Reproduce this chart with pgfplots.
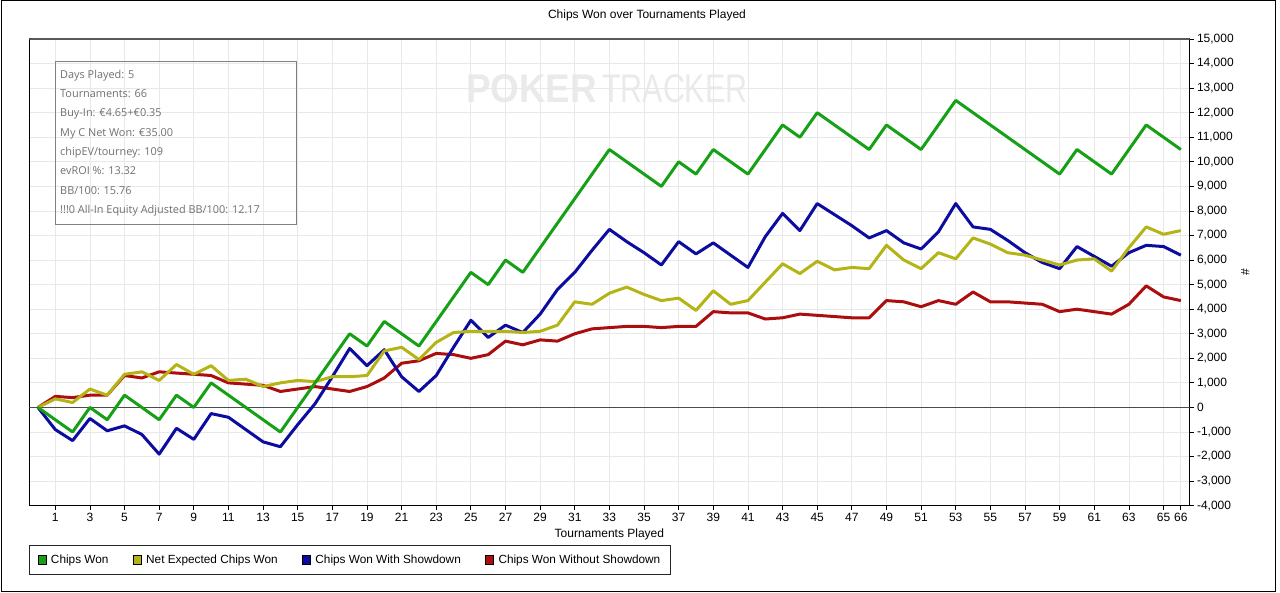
\documentclass[border=0pt]{standalone}
\usepackage{pgfplots}
\pgfplotsset{compat=1.18}
\usepackage{pgfplotstable}
\usepackage{fontspec}
\setmainfont{Liberation Sans}
\newfontfamily\infofont{Open Sans}
\definecolor{cgreen}{RGB}{22,160,22}
\definecolor{cyellow}{RGB}{180,180,22}
\definecolor{cblue}{RGB}{12,12,160}
\definecolor{cred}{RGB}{172,14,14}
\definecolor{gridc}{RGB}{232,232,232}
\definecolor{wmark}{RGB}{234,234,234}
\definecolor{infotext}{RGB}{112,112,112}

\pgfplotstableread{
x G Y B R
0 0 0 0 0
1 -500 350 -900 450
2 -1000 200 -1350 400
3 0 750 -450 500
4 -500 500 -950 500
5 500 1350 -750 1300
6 0 1450 -1100 1200
7 -500 1100 -1900 1450
8 500 1750 -850 1400
9 0 1350 -1300 1350
10 1000 1700 -250 1300
11 500 1100 -400 1000
12 0 1150 -900 950
13 -500 850 -1400 900
14 -1000 1000 -1600 650
15 0 1100 -700 750
16 1000 1050 150 850
17 2000 1250 1250 750
18 3000 1250 2400 650
19 2500 1300 1700 850
20 3500 2300 2350 1200
21 3000 2450 1250 1800
22 2500 1950 650 1900
23 3500 2650 1300 2200
24 4500 3050 2450 2150
25 5500 3100 3550 2000
26 5000 3100 2850 2150
27 6000 3100 3350 2700
28 5500 3050 3050 2550
29 6500 3100 3800 2750
30 7500 3350 4800 2700
31 8500 4300 5500 3000
32 9500 4200 6400 3200
33 10500 4650 7250 3250
34 10000 4900 6750 3300
35 9500 4600 6300 3300
36 9000 4350 5800 3250
37 10000 4450 6750 3300
38 9500 3950 6250 3300
39 10500 4750 6700 3900
40 10000 4200 6200 3850
41 9500 4350 5700 3850
42 10500 5100 6950 3600
43 11500 5850 7900 3650
44 11000 5450 7200 3800
45 12000 5950 8300 3750
46 11500 5600 7850 3700
47 11000 5700 7400 3650
48 10500 5650 6900 3650
49 11500 6600 7200 4350
50 11000 6000 6700 4300
51 10500 5650 6450 4100
52 11500 6300 7150 4350
53 12500 6050 8300 4200
54 12000 6900 7350 4700
55 11500 6650 7250 4300
56 11000 6300 6800 4300
57 10500 6200 6300 4250
58 10000 6000 5900 4200
59 9500 5800 5650 3900
60 10500 6000 6550 4000
61 10000 6050 6150 3900
62 9500 5550 5750 3800
63 10500 6500 6300 4200
64 11500 7350 6600 4950
65 11000 7050 6550 4500
66 10500 7200 6200 4350
}\datatable

\begin{document}
\begin{tikzpicture}
\path[use as bounding box] (0,0) rectangle (1280bp,593bp);
\draw[black, line width=1bp] (1.5bp,1.5bp) rectangle (1275bp,592bp);
% watermark
\node[anchor=base west, inner sep=0, text=wmark] at (466bp,490.3bp)
  {\scalebox{0.92}[1]{\fontsize{40bp}{40bp}\selectfont\bfseries POKER}};
\node[anchor=base west, inner sep=0, text=wmark] at (602bp,490.3bp)
  {\scalebox{0.76}[1]{\fontsize{40bp}{40bp}\selectfont TRACKER}};
\begin{axis}[
  at={(29.3bp,87.3bp)}, anchor=south west,
  scale only axis, width=1160.2bp, height=466.7bp,
  xmin=-0.5, xmax=66.5, ymin=-4000, ymax=15000,
  xtick={1,3,5,7,9,11,13,15,17,19,21,23,25,27,29,31,33,35,37,39,41,43,45,47,49,51,53,55,57,59,61,63,65,66},
  ytick={-4000,-3000,-2000,-1000,0,1000,2000,3000,4000,5000,6000,7000,8000,9000,10000,11000,12000,13000,14000,15000},
  scaled y ticks=false,
  xtick pos=bottom, ytick pos=right, yticklabel pos=right,
  tick align=outside, major tick length=4bp,
  tick style={black, line width=0.8bp},
  grid=major, major grid style={draw=gridc, line width=0.8bp},
  axis line style={black, line width=1bp},
  ticklabel style={font=\fontsize{12bp}{14bp}\selectfont},
  /pgf/number format/assume math mode=true,
  /pgf/number format/1000 sep={,},
  title={Chips Won over Tournaments Played},
  title style={at={(axis description cs:0.5,1)}, anchor=center, xshift=37.6bp, yshift=17.3bp, font=\fontsize{12bp}{14bp}\selectfont},
  xlabel={Tournaments Played},
  xlabel style={at={(axis description cs:0.5,0)}, anchor=center, yshift=-29bp, font=\fontsize{12bp}{14bp}\selectfont},
  ylabel={\#},
  ylabel style={at={(axis description cs:1.048,0.5)}, anchor=center, font=\fontsize{12bp}{14bp}\selectfont},
  legend columns=4,
  legend cell align=left,
  legend style={at={(axis description cs:0,0)}, anchor=north west, yshift=-39.3bp,
    draw=black!85, line width=1bp, font=\fontsize{11.8bp}{14bp}\selectfont,
    inner xsep=8bp, inner ysep=7.5bp,
    /tikz/every odd column/.append style={column sep=2.5bp},
    /tikz/every even column/.append style={column sep=22.5bp}},
  clip=true,
]
\draw[black!70, line width=1.5bp] (axis cs:-0.5,0) -- (axis cs:66.5,0);
\addplot[forget plot, cred, line width=3bp, line join=round] table[x=x,y=R] {\datatable};
\addplot[forget plot, cblue, line width=3bp, line join=round] table[x=x,y=B] {\datatable};
\addplot[forget plot, cyellow, line width=3bp, line join=round] table[x=x,y=Y] {\datatable};
\addplot[forget plot, cgreen, line width=3bp, line join=round] table[x=x,y=G] {\datatable};
\addlegendimage{legend image code/.code={\draw[fill=cgreen,draw=black,line width=0.7bp] (0bp,-4.5bp) rectangle (8bp,4.5bp);}}
\addlegendentry{Chips Won}
\addlegendimage{legend image code/.code={\draw[fill=cyellow,draw=black,line width=0.7bp] (0bp,-4.5bp) rectangle (8bp,4.5bp);}}
\addlegendentry{Net Expected Chips Won}
\addlegendimage{legend image code/.code={\draw[fill=cblue,draw=black,line width=0.7bp] (0bp,-4.5bp) rectangle (8bp,4.5bp);}}
\addlegendentry{Chips Won With Showdown}
\addlegendimage{legend image code/.code={\draw[fill=cred,draw=black,line width=0.7bp] (0bp,-4.5bp) rectangle (8bp,4.5bp);}}
\addlegendentry{Chips Won Without Showdown}
\draw[black!65, line width=2bp] (rel axis cs:0,1) -- (rel axis cs:1,1);
\end{axis}
% info box
\draw[black!50, line width=1bp] (55bp,368bp) rectangle (296bp,531bp);
\foreach \t [count=\i] in {Days Played: 5,Tournaments: 66,Buy-In: €4.65+€0.35,My C Net Won: €35.00,chipEV/tourney: 109,evROI \%: 13.32,BB/100: 15.76,!!!0 All-In Equity Adjusted BB/100: 12.17}
  \node[anchor=base west, inner sep=0, text=infotext, font=\infofont\fontsize{10.9bp}{13bp}\selectfont] at (60bp,{514.7bp-(\i-1)*19.3bp}) {\t};
\end{tikzpicture}
\end{document}
